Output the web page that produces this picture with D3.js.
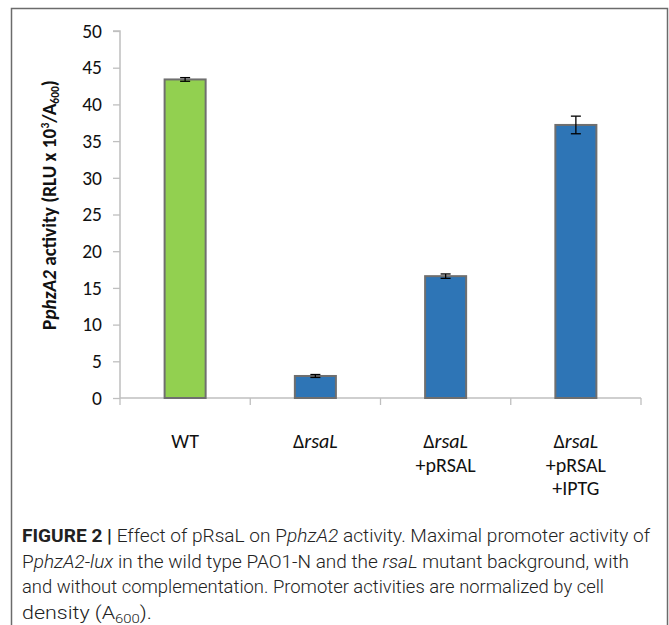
<!DOCTYPE html>
<html><head><meta charset="utf-8">
<script src="https://cdn.jsdelivr.net/npm/d3@7"></script>
<style>body{margin:0;background:#fff}svg{display:block}</style>
</head><body>
<svg id="c" width="669" height="625"></svg>
<script>
const categories = ["WT", "rsaL1", "rsaL2", "rsaL3"];
const labelLines = [
  [["WT", false]],
  [["Δ", false, "rsaL", true]],
  [["Δ", false, "rsaL", true], ["+pRSAL", false]],
  [["Δ", false, "rsaL", true], ["+pRSAL", false], ["+IPTG", false]]
];
const values = [43.4, 3.0, 16.6, 37.2];
const errors = [0.25, 0.2, 0.3, 1.2];
const barColors = ["#92d050", "#2e75b6", "#2e75b6", "#2e75b6"];
const yTicks = [0, 5, 10, 15, 20, 25, 30, 35, 40, 45, 50];

const svg = d3.select("#c");
const L = 120, R = 641, T = 31, B = 398;

// frame
svg.append("path").attr("d", `M11.5,625 V8.5 H667.5 V625`).attr("fill","none").attr("stroke","#6b6b6b").attr("stroke-width",1.5);

const x = d3.scaleBand().domain(categories).range([L, R]).paddingInner(0.685).paddingOuter(0.3425);
const y = d3.scaleLinear().domain([0, 50]).range([B, T]);

// y axis
const ya = svg.append("g").attr("transform", `translate(${L},0)`)
  .call(d3.axisLeft(y).tickValues(yTicks).tickSize(7).tickPadding(11));
ya.select(".domain").attr("stroke","#bfbfbf").attr("stroke-width",1.5).attr("d", `M-7,${T}H0V${B}`);
ya.selectAll(".tick line").attr("stroke","#bfbfbf").attr("stroke-width",1.3);
ya.selectAll(".tick text").attr("font-family","Carlito, Lato, sans-serif").attr("font-size",19.5).attr("fill","#111");

// x axis baseline with category boundary ticks
const xBound = d3.scaleLinear().domain([0, categories.length]).range([L, R]);
svg.append("line").attr("x1", L).attr("x2", R).attr("y1", B).attr("y2", B).attr("stroke","#bfbfbf").attr("stroke-width",1.5);
svg.selectAll(".xt").data(d3.range(categories.length + 1)).enter().append("line")
  .attr("x1", d => xBound(d)).attr("x2", d => xBound(d)).attr("y1", B).attr("y2", B + 7)
  .attr("stroke","#bfbfbf").attr("stroke-width",1.3);

// bars
svg.selectAll(".bar").data(values).enter().append("rect")
  .attr("x", (d,i) => x(categories[i])).attr("width", x.bandwidth())
  .attr("y", d => y(d)).attr("height", d => y(0) - y(d))
  .attr("fill", (d,i) => barColors[i]).attr("stroke","#6f6f6f").attr("stroke-width",2);

// error bars
const cap = 5;
values.forEach((v,i) => {
  const cx = x(categories[i]) + x.bandwidth()/2;
  const g = svg.append("g").attr("stroke","#000").attr("stroke-width",1.3);
  g.append("line").attr("x1",cx).attr("x2",cx).attr("y1",y(v+errors[i])).attr("y2",y(v-errors[i]));
  g.append("line").attr("x1",cx-cap).attr("x2",cx+cap).attr("y1",y(v+errors[i])).attr("y2",y(v+errors[i]));
  g.append("line").attr("x1",cx-cap).attr("x2",cx+cap).attr("y1",y(v-errors[i])).attr("y2",y(v-errors[i]));
});

// x labels
labelLines.forEach((lines,i) => {
  const cx = x(categories[i]) + x.bandwidth()/2;
  lines.forEach((parts, j) => {
    const t = svg.append("text").attr("x", cx).attr("y", 448 + j*23.5).attr("text-anchor","middle")
      .attr("font-family","Carlito, Lato, sans-serif").attr("font-size",20).attr("fill","#111");
    for (let k = 0; k < parts.length; k += 2) {
      t.append("tspan").text(parts[k]).attr("font-style", parts[k+1] ? "italic" : "normal");
    }
  });
});

// y label
const yl = svg.append("text").attr("transform", `translate(56,205) rotate(-90)`)
  .attr("text-anchor","middle").attr("font-family","Carlito, Lato, sans-serif").attr("font-size",19.3)
  .attr("font-weight","bold").attr("fill","#111");
yl.append("tspan").text("P");
yl.append("tspan").text("phzA2").attr("font-style","italic");
yl.append("tspan").text(" activity (RLU x 10");
yl.append("tspan").text("3").attr("font-size",11.5).attr("dy",-7);
yl.append("tspan").text("/A").attr("dy",7);
yl.append("tspan").text("600").attr("font-size",11.5).attr("dy",3);
yl.append("tspan").text(")").attr("dy",-3);

// caption
const capLines = [
  {w: 628, parts: [["FIGURE 2 | ","b"],["Effect of pRsaL on P",""],["phzA2","i"],[" activity. Maximal promoter activity of",""]]},
  {w: 607, parts: [["P",""],["phzA2-lux","i"],[" in the wild type PAO1-N and the ",""],["rsaL","i"],[" mutant background, with",""]]},
  {w: 582, parts: [["and without complementation. Promoter activities are normalized by cell",""]]},
  {w: 130, parts: [["density (A",""],["600","s"],[").",""]]}
];
capLines.forEach((ln, j) => {
  const t = svg.append("text").attr("x", 22).attr("y", 542 + j*25.7)
    .attr("font-family","Roboto, 'Liberation Sans', Arial, sans-serif").attr("font-weight",300).attr("font-size",18).attr("fill","#222")
    .attr("textLength", ln.w).attr("lengthAdjust","spacingAndGlyphs");
  ln.parts.forEach(p => {
    const s = t.append("tspan").text(p[0]);
    if (p[1] === "b") s.attr("font-weight","bold");
    if (p[1] === "i") s.attr("font-style","italic");
    if (p[1] === "s") s.attr("font-size",12.5).attr("dy",4);
  });
  if (j === 3) t.select("tspan:last-child").attr("dy",-4);
});
</script>
</body></html>
